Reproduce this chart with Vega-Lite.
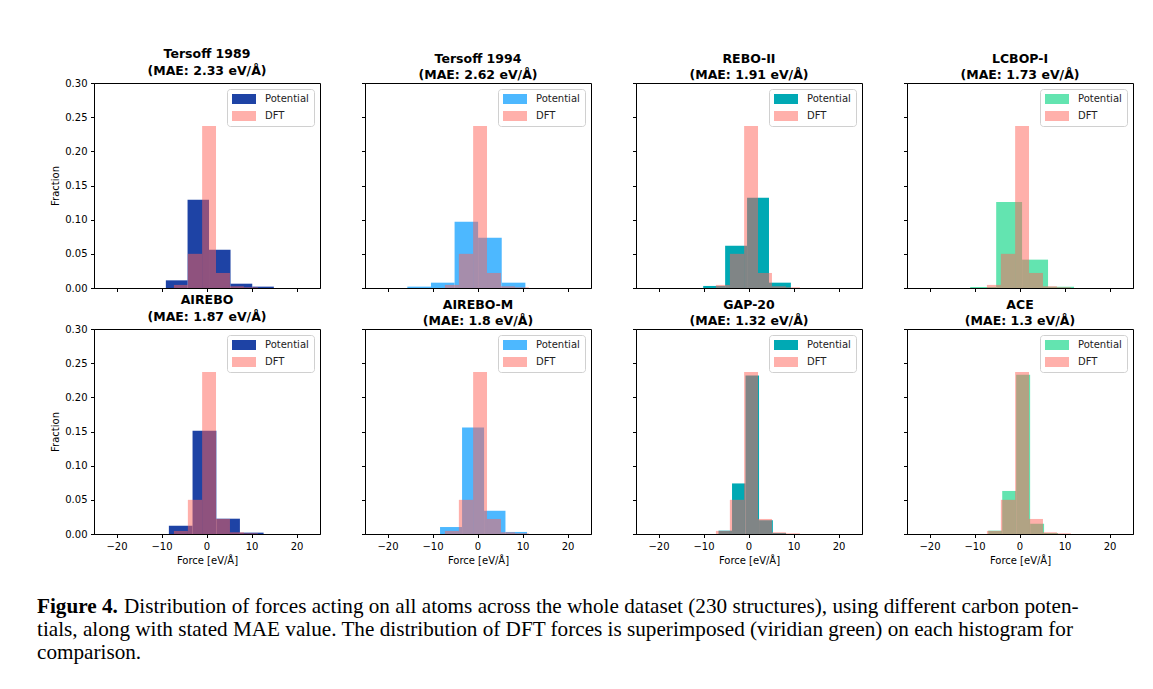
{
  "$schema": "https://vega.github.io/schema/vega-lite/v6.json",
  "background": "white",
  "padding": {"left": 37, "top": 47, "right": 0, "bottom": 0},
  "datasets": {
    "dft": [
      {"series": "DFT", "x0": -7.25, "x1": -4.15, "frac": 0.0045},
      {"series": "DFT", "x0": -4.15, "x1": -0.98, "frac": 0.050},
      {"series": "DFT", "x0": -0.98, "x1": 2.1, "frac": 0.237},
      {"series": "DFT", "x0": 2.1, "x1": 5.2, "frac": 0.022},
      {"series": "DFT", "x0": 5.2, "x1": 8.3, "frac": 0.0025},
      {"series": "DFT", "x0": 8.3, "x1": 11.4, "frac": 0.001}
    ],
    "pot": [
      {"panel": "Tersoff 1989", "series": "Potential", "x0": -9.04, "x1": -4.22, "frac": 0.0112},
      {"panel": "Tersoff 1989", "series": "Potential", "x0": -4.22, "x1": 0.55, "frac": 0.129},
      {"panel": "Tersoff 1989", "series": "Potential", "x0": 0.55, "x1": 5.33, "frac": 0.056},
      {"panel": "Tersoff 1989", "series": "Potential", "x0": 5.33, "x1": 10.15, "frac": 0.0063},
      {"panel": "Tersoff 1989", "series": "Potential", "x0": 10.15, "x1": 14.95, "frac": 0.002},
      {"panel": "Tersoff 1994", "series": "Potential", "x0": -15.6, "x1": -10.35, "frac": 0.002},
      {"panel": "Tersoff 1994", "series": "Potential", "x0": -10.35, "x1": -5.1, "frac": 0.0078},
      {"panel": "Tersoff 1994", "series": "Potential", "x0": -5.1, "x1": 0.12, "frac": 0.097},
      {"panel": "Tersoff 1994", "series": "Potential", "x0": 0.12, "x1": 5.37, "frac": 0.0737},
      {"panel": "Tersoff 1994", "series": "Potential", "x0": 5.37, "x1": 10.62, "frac": 0.0078},
      {"panel": "REBO-II", "series": "Potential", "x0": -10.07, "x1": -5.2, "frac": 0.003},
      {"panel": "REBO-II", "series": "Potential", "x0": -5.2, "x1": -0.33, "frac": 0.062},
      {"panel": "REBO-II", "series": "Potential", "x0": -0.33, "x1": 4.54, "frac": 0.132},
      {"panel": "REBO-II", "series": "Potential", "x0": 4.54, "x1": 9.4, "frac": 0.0078},
      {"panel": "LCBOP-I", "series": "Potential", "x0": -10.96, "x1": -5.19, "frac": 0.0015},
      {"panel": "LCBOP-I", "series": "Potential", "x0": -5.19, "x1": 0.56, "frac": 0.126},
      {"panel": "LCBOP-I", "series": "Potential", "x0": 0.56, "x1": 6.33, "frac": 0.0415},
      {"panel": "LCBOP-I", "series": "Potential", "x0": 6.33, "x1": 12.1, "frac": 0.002},
      {"panel": "AIREBO", "series": "Potential", "x0": -8.37, "x1": -3.11, "frac": 0.0122},
      {"panel": "AIREBO", "series": "Potential", "x0": -3.11, "x1": 2.18, "frac": 0.151},
      {"panel": "AIREBO", "series": "Potential", "x0": 2.18, "x1": 7.41, "frac": 0.0224},
      {"panel": "AIREBO", "series": "Potential", "x0": 7.41, "x1": 12.67, "frac": 0.002},
      {"panel": "AIREBO-M", "series": "Potential", "x0": -8.33, "x1": -3.44, "frac": 0.0102},
      {"panel": "AIREBO-M", "series": "Potential", "x0": -3.44, "x1": 1.45, "frac": 0.156},
      {"panel": "AIREBO-M", "series": "Potential", "x0": 1.45, "x1": 6.2, "frac": 0.034},
      {"panel": "AIREBO-M", "series": "Potential", "x0": 6.2, "x1": 11.0, "frac": 0.003},
      {"panel": "GAP-20", "series": "Potential", "x0": -6.67, "x1": -3.67, "frac": 0.0049},
      {"panel": "GAP-20", "series": "Potential", "x0": -3.67, "x1": -0.67, "frac": 0.074},
      {"panel": "GAP-20", "series": "Potential", "x0": -0.67, "x1": 2.33, "frac": 0.232},
      {"panel": "GAP-20", "series": "Potential", "x0": 2.33, "x1": 5.4, "frac": 0.020},
      {"panel": "GAP-20", "series": "Potential", "x0": 5.4, "x1": 8.33, "frac": 0.0015},
      {"panel": "ACE", "series": "Potential", "x0": -6.95, "x1": -3.85, "frac": 0.0049},
      {"panel": "ACE", "series": "Potential", "x0": -3.85, "x1": -0.75, "frac": 0.063},
      {"panel": "ACE", "series": "Potential", "x0": -0.75, "x1": 2.35, "frac": 0.233},
      {"panel": "ACE", "series": "Potential", "x0": 2.35, "x1": 5.45, "frac": 0.015},
      {"panel": "ACE", "series": "Potential", "x0": 5.45, "x1": 8.55, "frac": 0.0015}
    ]
  },
  "vconcat": [
    {
      "columns": 4,
      "bounds": "flush",
      "spacing": {"column": 45, "row": 41},
      "resolve": {"scale": {"color": "independent", "opacity": "independent"}, "legend": {"color": "independent", "opacity": "independent"}},
      "concat": [
        {
          "title": {"text": ["Tersoff 1989", "(MAE: 2.33 eV/Å)"]},
          "width": 226, "height": 205,
          "encoding": {
            "x": {"field": "x0", "type": "quantitative", "scale": {"domain": [-25, 25.2], "nice": false, "zero": false}, "axis": {"values": [-20, -10, 0, 10, 20], "labels": false, "title": null}},
            "x2": {"field": "x1"},
            "y": {"field": "frac", "type": "quantitative", "scale": {"domain": [0, 0.3], "nice": false}, "axis": {"values": [0, 0.05, 0.1, 0.15, 0.2, 0.25, 0.3], "format": ".2f", "title": "Fraction"}},
            "y2": {"datum": 0},
            "color": {"field": "series", "type": "nominal", "scale": {"domain": ["Potential", "DFT"], "range": ["#1e43a5", "#ff6157"]}, "legend": {"title": null}},
            "opacity": {"field": "series", "type": "nominal", "scale": {"domain": ["Potential", "DFT"], "range": [1, 0.5]}, "legend": {"title": null}}
          },
          "layer": [
            {"data": {"name": "pot"}, "transform": [{"filter": "datum.panel === 'Tersoff 1989'"}], "mark": {"type": "rect"}},
            {"data": {"name": "dft"}, "mark": {"type": "rect"}}
          ]
        },
        {
          "title": {"text": ["Tersoff 1994", "(MAE: 2.62 eV/Å)"]},
          "width": 226, "height": 205,
          "encoding": {
            "x": {"field": "x0", "type": "quantitative", "scale": {"domain": [-25, 25.2], "nice": false, "zero": false}, "axis": {"values": [-20, -10, 0, 10, 20], "labels": false, "title": null}},
            "x2": {"field": "x1"},
            "y": {"field": "frac", "type": "quantitative", "scale": {"domain": [0, 0.3], "nice": false}, "axis": {"values": [0, 0.05, 0.1, 0.15, 0.2, 0.25, 0.3], "labels": false, "title": null}},
            "y2": {"datum": 0},
            "color": {"field": "series", "type": "nominal", "scale": {"domain": ["Potential", "DFT"], "range": ["#4db8ff", "#ff6157"]}, "legend": {"title": null}},
            "opacity": {"field": "series", "type": "nominal", "scale": {"domain": ["Potential", "DFT"], "range": [1, 0.5]}, "legend": {"title": null}}
          },
          "layer": [
            {"data": {"name": "pot"}, "transform": [{"filter": "datum.panel === 'Tersoff 1994'"}], "mark": {"type": "rect"}},
            {"data": {"name": "dft"}, "mark": {"type": "rect"}}
          ]
        },
        {
          "title": {"text": ["REBO-II", "(MAE: 1.91 eV/Å)"]},
          "width": 226, "height": 205,
          "encoding": {
            "x": {"field": "x0", "type": "quantitative", "scale": {"domain": [-25, 25.2], "nice": false, "zero": false}, "axis": {"values": [-20, -10, 0, 10, 20], "labels": false, "title": null}},
            "x2": {"field": "x1"},
            "y": {"field": "frac", "type": "quantitative", "scale": {"domain": [0, 0.3], "nice": false}, "axis": {"values": [0, 0.05, 0.1, 0.15, 0.2, 0.25, 0.3], "labels": false, "title": null}},
            "y2": {"datum": 0},
            "color": {"field": "series", "type": "nominal", "scale": {"domain": ["Potential", "DFT"], "range": ["#00a9b4", "#ff6157"]}, "legend": {"title": null}},
            "opacity": {"field": "series", "type": "nominal", "scale": {"domain": ["Potential", "DFT"], "range": [1, 0.5]}, "legend": {"title": null}}
          },
          "layer": [
            {"data": {"name": "pot"}, "transform": [{"filter": "datum.panel === 'REBO-II'"}], "mark": {"type": "rect"}},
            {"data": {"name": "dft"}, "mark": {"type": "rect"}}
          ]
        },
        {
          "title": {"text": ["LCBOP-I", "(MAE: 1.73 eV/Å)"]},
          "width": 226, "height": 205,
          "encoding": {
            "x": {"field": "x0", "type": "quantitative", "scale": {"domain": [-25, 25.2], "nice": false, "zero": false}, "axis": {"values": [-20, -10, 0, 10, 20], "labels": false, "title": null}},
            "x2": {"field": "x1"},
            "y": {"field": "frac", "type": "quantitative", "scale": {"domain": [0, 0.3], "nice": false}, "axis": {"values": [0, 0.05, 0.1, 0.15, 0.2, 0.25, 0.3], "labels": false, "title": null}},
            "y2": {"datum": 0},
            "color": {"field": "series", "type": "nominal", "scale": {"domain": ["Potential", "DFT"], "range": ["#63e4b0", "#ff6157"]}, "legend": {"title": null}},
            "opacity": {"field": "series", "type": "nominal", "scale": {"domain": ["Potential", "DFT"], "range": [1, 0.5]}, "legend": {"title": null}}
          },
          "layer": [
            {"data": {"name": "pot"}, "transform": [{"filter": "datum.panel === 'LCBOP-I'"}], "mark": {"type": "rect"}},
            {"data": {"name": "dft"}, "mark": {"type": "rect"}}
          ]
        },
        {
          "title": {"text": ["AIREBO", "(MAE: 1.87 eV/Å)"]},
          "width": 226, "height": 205,
          "encoding": {
            "x": {"field": "x0", "type": "quantitative", "scale": {"domain": [-25, 25.2], "nice": false, "zero": false}, "axis": {"values": [-20, -10, 0, 10, 20], "title": "Force [eV/Å]"}},
            "x2": {"field": "x1"},
            "y": {"field": "frac", "type": "quantitative", "scale": {"domain": [0, 0.3], "nice": false}, "axis": {"values": [0, 0.05, 0.1, 0.15, 0.2, 0.25, 0.3], "format": ".2f", "title": "Fraction"}},
            "y2": {"datum": 0},
            "color": {"field": "series", "type": "nominal", "scale": {"domain": ["Potential", "DFT"], "range": ["#1e43a5", "#ff6157"]}, "legend": {"title": null}},
            "opacity": {"field": "series", "type": "nominal", "scale": {"domain": ["Potential", "DFT"], "range": [1, 0.5]}, "legend": {"title": null}}
          },
          "layer": [
            {"data": {"name": "pot"}, "transform": [{"filter": "datum.panel === 'AIREBO'"}], "mark": {"type": "rect"}},
            {"data": {"name": "dft"}, "mark": {"type": "rect"}}
          ]
        },
        {
          "title": {"text": ["AIREBO-M", "(MAE: 1.8 eV/Å)"]},
          "width": 226, "height": 205,
          "encoding": {
            "x": {"field": "x0", "type": "quantitative", "scale": {"domain": [-25, 25.2], "nice": false, "zero": false}, "axis": {"values": [-20, -10, 0, 10, 20], "title": "Force [eV/Å]"}},
            "x2": {"field": "x1"},
            "y": {"field": "frac", "type": "quantitative", "scale": {"domain": [0, 0.3], "nice": false}, "axis": {"values": [0, 0.05, 0.1, 0.15, 0.2, 0.25, 0.3], "labels": false, "title": null}},
            "y2": {"datum": 0},
            "color": {"field": "series", "type": "nominal", "scale": {"domain": ["Potential", "DFT"], "range": ["#4db8ff", "#ff6157"]}, "legend": {"title": null}},
            "opacity": {"field": "series", "type": "nominal", "scale": {"domain": ["Potential", "DFT"], "range": [1, 0.5]}, "legend": {"title": null}}
          },
          "layer": [
            {"data": {"name": "pot"}, "transform": [{"filter": "datum.panel === 'AIREBO-M'"}], "mark": {"type": "rect"}},
            {"data": {"name": "dft"}, "mark": {"type": "rect"}}
          ]
        },
        {
          "title": {"text": ["GAP-20", "(MAE: 1.32 eV/Å)"]},
          "width": 226, "height": 205,
          "encoding": {
            "x": {"field": "x0", "type": "quantitative", "scale": {"domain": [-25, 25.2], "nice": false, "zero": false}, "axis": {"values": [-20, -10, 0, 10, 20], "title": "Force [eV/Å]"}},
            "x2": {"field": "x1"},
            "y": {"field": "frac", "type": "quantitative", "scale": {"domain": [0, 0.3], "nice": false}, "axis": {"values": [0, 0.05, 0.1, 0.15, 0.2, 0.25, 0.3], "labels": false, "title": null}},
            "y2": {"datum": 0},
            "color": {"field": "series", "type": "nominal", "scale": {"domain": ["Potential", "DFT"], "range": ["#00a9b4", "#ff6157"]}, "legend": {"title": null}},
            "opacity": {"field": "series", "type": "nominal", "scale": {"domain": ["Potential", "DFT"], "range": [1, 0.5]}, "legend": {"title": null}}
          },
          "layer": [
            {"data": {"name": "pot"}, "transform": [{"filter": "datum.panel === 'GAP-20'"}], "mark": {"type": "rect"}},
            {"data": {"name": "dft"}, "mark": {"type": "rect"}}
          ]
        },
        {
          "title": {"text": ["ACE", "(MAE: 1.3 eV/Å)"]},
          "width": 226, "height": 205,
          "encoding": {
            "x": {"field": "x0", "type": "quantitative", "scale": {"domain": [-25, 25.2], "nice": false, "zero": false}, "axis": {"values": [-20, -10, 0, 10, 20], "title": "Force [eV/Å]"}},
            "x2": {"field": "x1"},
            "y": {"field": "frac", "type": "quantitative", "scale": {"domain": [0, 0.3], "nice": false}, "axis": {"values": [0, 0.05, 0.1, 0.15, 0.2, 0.25, 0.3], "labels": false, "title": null}},
            "y2": {"datum": 0},
            "color": {"field": "series", "type": "nominal", "scale": {"domain": ["Potential", "DFT"], "range": ["#63e4b0", "#ff6157"]}, "legend": {"title": null}},
            "opacity": {"field": "series", "type": "nominal", "scale": {"domain": ["Potential", "DFT"], "range": [1, 0.5]}, "legend": {"title": null}}
          },
          "layer": [
            {"data": {"name": "pot"}, "transform": [{"filter": "datum.panel === 'ACE'"}], "mark": {"type": "rect"}},
            {"data": {"name": "dft"}, "mark": {"type": "rect"}}
          ]
        }
      ]
    },
    {
      "width": 1100,
      "height": 70,
      "view": {"stroke": null},
      "data": {"values": [
        {"line": 1, "part": "bold", "text": "Figure 4."},
        {"line": 1, "part": "rest", "text": "Distribution of forces acting on all atoms across the whole dataset (230 structures), using different carbon poten-"},
        {"line": 2, "part": "rest", "text": "tials, along with stated MAE value. The distribution of DFT forces is superimposed (viridian green) on each histogram for"},
        {"line": 3, "part": "rest", "text": "comparison."}
      ]},
      "encoding": {
        "y": {"field": "line", "type": "ordinal", "axis": null},
        "x": {"value": -57},
        "text": {"field": "text"}
      },
      "layer": [
        {"transform": [{"filter": "datum.part === 'bold'"}], "mark": {"type": "text", "align": "left", "baseline": "alphabetic", "font": "Liberation Serif", "fontSize": 21.2, "fontWeight": "bold", "color": "black"}},
        {"transform": [{"filter": "datum.part === 'rest' && datum.line === 1"}], "mark": {"type": "text", "align": "left", "baseline": "alphabetic", "font": "Liberation Serif", "fontSize": 21.2, "dx": 87, "color": "black"}},
        {"transform": [{"filter": "datum.line > 1"}], "mark": {"type": "text", "align": "left", "baseline": "alphabetic", "font": "Liberation Serif", "fontSize": 21.2, "color": "black"}}
      ]
    }
  ],
  "spacing": 29,
  "config": {
    "font": "DejaVu Sans",
    "view": {"stroke": "black", "strokeWidth": 1},
    "title": {"font": "DejaVu Sans", "fontSize": 12.5, "fontWeight": "bold", "lineHeight": 16.5, "offset": 0, "dy": 3, "color": "black"},
    "axis": {
      "grid": false,
      "domainColor": "black",
      "tickColor": "black",
      "labelColor": "black",
      "titleColor": "black",
      "labelFont": "DejaVu Sans",
      "titleFont": "DejaVu Sans",
      "labelFontSize": 10,
      "titleFontSize": 10,
      "titleFontWeight": "normal",
      "tickSize": 3.5,
      "labelPadding": 3.5,
      "titlePadding": 4
    },
    "legend": {
      "orient": "top-right",
      "offset": 6,
      "fillColor": "white",
      "strokeColor": "#d0d0d0",
      "cornerRadius": 3,
      "padding": 5,
      "labelFont": "DejaVu Sans",
      "labelFontSize": 10,
      "labelColor": "#222222",
      "symbolType": "M-2.4,-1H2.4V1H-2.4Z",
      "symbolSize": 100,
      "symbolOffset": 7,
      "labelOffset": 16,
      "rowPadding": 7,
      "symbolStrokeWidth": 0
    }
  }
}
